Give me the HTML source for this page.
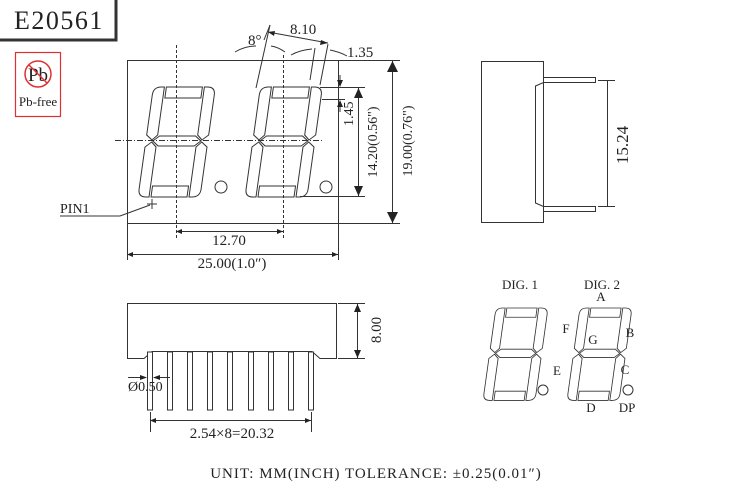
<!DOCTYPE html>
<html><head><meta charset="utf-8"><style>
html,body{margin:0;padding:0;background:#fff}
svg{display:block}
text{font-family:"Liberation Serif",serif;fill:#222}
</style></head><body>
<svg width="746" height="484" viewBox="0 0 746 484" xmlns="http://www.w3.org/2000/svg">
<defs>
<g id="dig" fill="none" stroke="#333" stroke-width="1">
<rect x="13" y="0" width="36" height="11"/>
<rect x="13" y="99" width="36" height="11"/>
<path d="M11,0 L8,0 Q0,0 0,8 L0,48 L6,53 L11,48 Z"/>
<path d="M51,0 L54,0 Q62,0 62,8 L62,48 L56,53 L51,48 Z"/>
<path d="M0,60 L6,55 L11,60 L11,110 L8,110 Q0,110 0,102 Z"/>
<path d="M62,60 L56,55 L51,60 L51,110 L54,110 Q62,110 62,102 Z"/>
<path d="M7,54 L13,49 L49,49 L55,54 L49,59 L13,59 Z"/>
</g>
</defs>
<!-- title -->
<rect x="-4" y="-4" width="120" height="44" fill="#fff" stroke="#333" stroke-width="3"/>
<text x="14" y="29" font-size="26" letter-spacing="1.5">E20561</text>
<rect x="15.5" y="52.5" width="45" height="64" fill="#fff" stroke="#e03030" stroke-width="1.2"/>
<circle cx="38" cy="74" r="13" fill="none" stroke="#e03030" stroke-width="1.5"/>
<text x="38" y="81" font-size="19" text-anchor="middle">Pb</text>
<line x1="29" y1="65" x2="47" y2="83" stroke="#e03030" stroke-width="1.5"/>
<text x="38" y="106" font-size="13" text-anchor="middle">Pb-free</text>

<g fill="none" stroke="#333" stroke-width="1">
<!-- main body -->
<rect x="127.5" y="60.5" width="211" height="163"/>
<line x1="176.5" y1="45" x2="176.5" y2="238" stroke-dasharray="3,2"/>
<line x1="283.5" y1="55" x2="283.5" y2="238" stroke-dasharray="3,2"/>
<line x1="115" y1="140.5" x2="322" y2="140.5" stroke-dasharray="6,2,1,2"/>
<line x1="256" y1="88" x2="270" y2="25"/>
<line x1="264" y1="40" x2="270" y2="25"/>
<line x1="310" y1="80" x2="315" y2="48"/>
<line x1="320" y1="85" x2="328" y2="44"/>
<line x1="268" y1="32" x2="328" y2="43"/>
<path d="M235,52 Q245,46 256,46"/>
<path d="M271,46 Q278,47 285,52"/>
<path d="M291,55 Q300,50 312,49"/>
<path d="M330,50 Q340,52 347,56"/>
<!-- 1.45 -->
<line x1="320" y1="87.5" x2="365" y2="87.5"/>
<line x1="322" y1="99.5" x2="345" y2="99.5"/>
<line x1="340" y1="75" x2="340" y2="86"/>
<line x1="340" y1="101" x2="340" y2="112"/>
<!-- 14.20 -->
<line x1="300" y1="196.5" x2="365" y2="196.5"/>
<line x1="358.5" y1="88" x2="358.5" y2="196"/>
<!-- 19.00 -->
<line x1="338" y1="60.5" x2="400" y2="60.5"/>
<line x1="338" y1="223.5" x2="400" y2="223.5"/>
<line x1="392.5" y1="61" x2="392.5" y2="223"/>
<!-- 12.70 / 25.00 -->
<line x1="176" y1="231.5" x2="283" y2="231.5"/>
<line x1="127.5" y1="224" x2="127.5" y2="260"/>
<line x1="338.5" y1="224" x2="338.5" y2="260"/>
<line x1="127" y1="254.5" x2="338" y2="254.5"/>
<!-- PIN1 -->
<polyline points="60,216 120,216 150,205"/>
<line x1="147" y1="204" x2="157" y2="204"/>
<line x1="152" y1="199" x2="152" y2="209"/>
<circle cx="221" cy="187" r="6"/>
<circle cx="326" cy="187" r="6"/>
</g>
<g fill="#222">
<polygon points="358.5,88 354,98 363,98"/>
<polygon points="358.5,196 354,186 363,186"/>
<polygon points="392.5,61 387,72 398,72"/>
<polygon points="392.5,223 387,212 398,212"/>
<polygon points="176,231.5 182,229 182,234"/>
<polygon points="283,231.5 277,229 277,234"/>
<polygon points="127,254.5 133,252 133,257"/>
<polygon points="338,254.5 332,252 332,257"/>
<polygon points="340,87 337,80 343,80"/>
<polygon points="340,100 337,107 343,107"/>
<polygon points="268,32 275,31 274,36"/>
<polygon points="328,43 321,40 320,45"/>
</g>
<use href="#dig" transform="translate(138,87) matrix(1,0,-0.14,1,15.4,0)"/>
<use href="#dig" transform="translate(245,87) matrix(1,0,-0.14,1,15.4,0)"/>
<text x="248" y="45" font-size="15">8°</text>
<text x="290" y="34" font-size="15">8.10</text>
<text x="347" y="57" font-size="15">1.35</text>
<text transform="translate(353,126) rotate(-90)" font-size="14">1.45</text>
<text transform="translate(377,142) rotate(-90)" font-size="14" text-anchor="middle">14.20(0.56")</text>
<text transform="translate(412,141) rotate(-90)" font-size="14" text-anchor="middle">19.00(0.76")</text>
<text x="229" y="245" font-size="15" text-anchor="middle">12.70</text>
<text x="232" y="268" font-size="15" text-anchor="middle">25.00(1.0″)</text>
<text x="60" y="213" font-size="14">PIN1</text>

<!-- side view -->
<g fill="none" stroke="#333" stroke-width="1">
<rect x="481.5" y="61.5" width="62" height="161"/>
<line x1="543.5" y1="62" x2="543.5" y2="78" stroke="#fff" stroke-width="2"/>
<polyline points="543.5,62 543.5,77.5 595.5,77.5 595.5,82.5 543.5,82.5 535.5,86 535.5,203 543.5,206.5 595.5,206.5 595.5,211.5 543.5,211.5 543.5,222"/>
<line x1="598" y1="80.5" x2="615" y2="80.5"/>
<line x1="598" y1="206.5" x2="615" y2="206.5"/>
<line x1="607.5" y1="81" x2="607.5" y2="206"/>
</g>
<text transform="translate(628,145) rotate(-90)" font-size="17" text-anchor="middle" font-family="Liberation Sans,sans-serif">15.24</text>

<!-- bottom view -->
<g fill="none" stroke="#333" stroke-width="1">
<path d="M127.5,303.5 L336.5,303.5 L336.5,358.5 L320,358.5 L312,351.5 L152,351.5 L144,358.5 L127.5,358.5 Z"/>
<line x1="338" y1="303.5" x2="365" y2="303.5"/>
<line x1="338" y1="358.5" x2="365" y2="358.5"/>
<line x1="357.5" y1="304" x2="357.5" y2="358"/>
<g fill="#fff">
<rect x="147.5" y="352" width="5" height="58"/>
<rect x="167.5" y="352" width="5" height="58"/>
<rect x="187.5" y="352" width="5" height="58"/>
<rect x="207.5" y="352" width="5" height="58"/>
<rect x="227.5" y="352" width="5" height="58"/>
<rect x="248.5" y="352" width="5" height="58"/>
<rect x="268.5" y="352" width="5" height="58"/>
<rect x="288.5" y="352" width="5" height="58"/>
<rect x="308.5" y="352" width="5" height="58"/>
</g>
<line x1="150.5" y1="412" x2="150.5" y2="432"/>
<line x1="311.5" y1="412" x2="311.5" y2="432"/>
<line x1="150" y1="420.5" x2="311" y2="420.5"/>
<line x1="128" y1="377.5" x2="146" y2="377.5"/>
<line x1="154" y1="377.5" x2="170" y2="377.5"/>
</g>
<g fill="#222">
<polygon points="357.5,304 354,312 361,312"/>
<polygon points="357.5,358 354,350 361,350"/>
<polygon points="150,420.5 156,418 156,423"/>
<polygon points="311,420.5 305,418 305,423"/>
<polygon points="147,377.5 140,375 140,380"/>
<polygon points="153,377.5 160,375 160,380"/>
</g>
<text transform="translate(381,330) rotate(-90)" font-size="15" text-anchor="middle">8.00</text>
<text x="128" y="391" font-size="14">Ø0.50</text>
<text x="232" y="438" font-size="15" text-anchor="middle">2.54×8=20.32</text>

<!-- digits diagram -->
<use href="#dig" transform="translate(483,308) scale(0.84) matrix(1,0,-0.14,1,15.4,0)"/>
<use href="#dig" transform="translate(567,308) scale(0.84) matrix(1,0,-0.14,1,15.4,0)"/>
<circle cx="543" cy="390" r="5" fill="none" stroke="#333"/>
<circle cx="628" cy="390" r="5" fill="none" stroke="#333"/>
<g font-size="13">
<text x="520" y="289" text-anchor="middle">DIG. 1</text>
<text x="602" y="289" text-anchor="middle">DIG. 2</text>
<text x="601" y="301" text-anchor="middle">A</text>
<text x="566" y="333" text-anchor="middle">F</text>
<text x="630" y="337" text-anchor="middle">B</text>
<text x="593" y="344" text-anchor="middle">G</text>
<text x="557" y="375" text-anchor="middle">E</text>
<text x="625" y="374" text-anchor="middle">C</text>
<text x="591" y="412" text-anchor="middle">D</text>
<text x="627" y="412" text-anchor="middle">DP</text>
</g>
<text x="376" y="478" font-size="15" text-anchor="middle" letter-spacing="1">UNIT: MM(INCH)  TOLERANCE: ±0.25(0.01″)</text>
</svg>
</body></html>
